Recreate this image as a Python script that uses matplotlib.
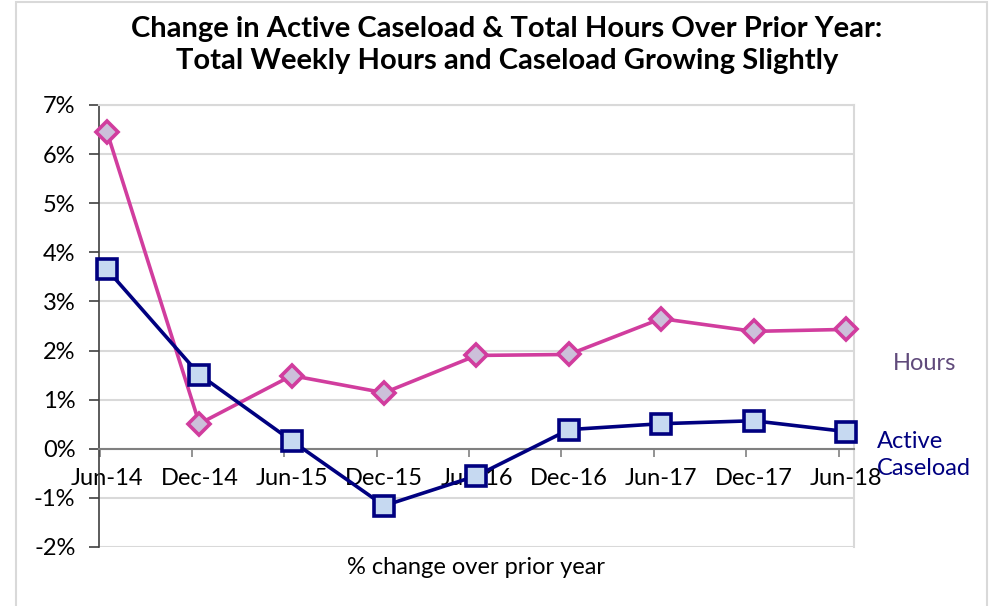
import matplotlib
matplotlib.use('Agg')
import matplotlib.pyplot as plt
from matplotlib.patches import Rectangle
from matplotlib.ticker import FixedLocator, PercentFormatter

plt.rcParams['font.family'] = ['Lato', 'DejaVu Sans']
plt.rcParams['axes.unicode_minus'] = False

# Data
periods = ['Jun-14', 'Dec-14', 'Jun-15', 'Dec-15', 'Jun-16',
           'Dec-16', 'Jun-17', 'Dec-17', 'Jun-18']
hours = [6.45, 0.51, 1.49, 1.14, 1.90, 1.92, 2.65, 2.39, 2.43]
caseload = [3.65, 1.51, 0.16, -1.16, -0.55, 0.39, 0.51, 0.57, 0.35]

fig = plt.figure(figsize=(9.93, 6.06), dpi=100)
ax = fig.add_axes([0.0997, 0.0974, 0.7603, 0.7294])

# outer chart frame
fig.patches.append(Rectangle((16 / 993, -0.01), (987 - 16) / 993, 1.0 - 2 / 606 + 0.01,
                             transform=fig.transFigure, fill=False,
                             edgecolor='#d9d9d9', linewidth=1.5))

x = list(range(len(periods)))

ax.plot(x, hours, color='#d13d9e', linewidth=2.6, marker='D', markersize=11.5,
        markerfacecolor='#ccc0da', markeredgecolor='#d13d9e', markeredgewidth=2.6,
        clip_on=False, zorder=3)
ax.plot(x, caseload, color='#000080', linewidth=2.6, marker='s', markersize=14,
        markerfacecolor='#c6d9f1', markeredgecolor='#000080', markeredgewidth=2.6,
        clip_on=False, zorder=4)

ax.set_xlim(-0.0866, 8.0866)
ax.set_ylim(-2, 7)
ax.set_yticks(range(-2, 8))
ax.yaxis.set_major_formatter(PercentFormatter(decimals=0))
ax.grid(axis='y', color='#d9d9d9', linewidth=1.5)
ax.set_axisbelow(True)

ax.set_xticks(x)
ax.set_xticklabels(periods)
ax.xaxis.set_minor_locator(FixedLocator([i - 0.08 for i in x]))
ax.tick_params(axis='x', which='major', length=0, pad=14, labelsize=17)
ax.tick_params(axis='x', which='minor', length=6, width=1.2, color='#808080', direction='out')
ax.tick_params(axis='y', length=7, width=1.2, color='#404040', labelsize=17, pad=10)

ax.spines['bottom'].set_position(('data', 0))
ax.spines['bottom'].set_color('#808080')
ax.spines['bottom'].set_linewidth(1.5)
ax.spines['left'].set_color('#404040')
ax.spines['left'].set_linewidth(1.2)
ax.spines['right'].set_color('#d9d9d9')
ax.spines['right'].set_linewidth(1.5)
ax.spines['top'].set_color('#d9d9d9')
ax.spines['top'].set_linewidth(1.5)

fig.text(476 / 993, 1 - 568 / 606, '% change over prior year', ha='center', va='center',
         fontsize=17)

fig.text(507 / 993, 1 - 45 / 606,
         'Change in Active Caseload & Total Hours Over Prior Year:\n'
         'Total Weekly Hours and Caseload Growing Slightly',
         ha='center', va='center', fontsize=21, fontweight='bold', linespacing=1.3)

fig.text(893 / 993, 1 - 363 / 606, 'Hours', ha='left', va='center', fontsize=17,
         color='#604a7b')
fig.text(877 / 993, 1 - 455 / 606, 'Active\nCaseload', ha='left', va='center',
         fontsize=17, color='#000080', linespacing=1.3)

fig.savefig('out.png', dpi=100)
